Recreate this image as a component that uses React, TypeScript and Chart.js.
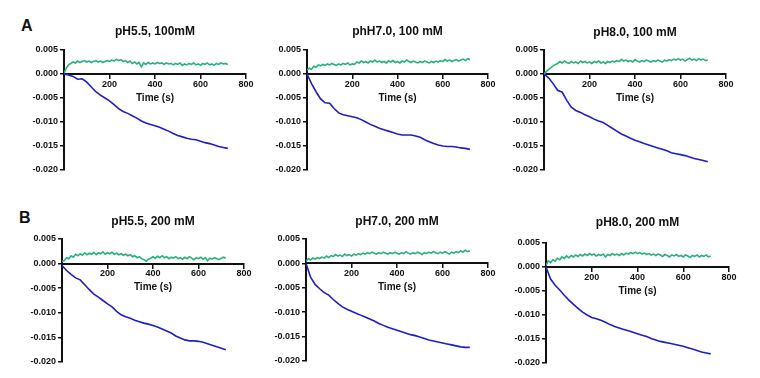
import React, { useEffect, useRef } from "react";
import { Chart, registerables } from "chart.js";

Chart.register(...registerables);

// ---------- data ----------
const timesBlue = [
  0, 20, 40, 60, 80, 100, 120, 140, 160, 180,
  200, 220, 240, 260, 280, 300, 320, 340, 360, 380,
  400, 420, 440, 460, 480, 500, 520, 540, 560, 580,
  600, 620, 640, 660, 680, 700, 720,
];
const timesGreen = [
  0, 10, 20, 30, 40, 50, 60, 70, 80, 90,
  100, 110, 120, 130, 140, 150, 160, 170, 180, 190,
  200, 210, 220, 230, 240, 250, 260, 270, 280, 290,
  300, 310, 320, 330, 340, 350, 360, 370, 380, 390,
  400, 410, 420, 430, 440, 450, 460, 470, 480, 490,
  500, 510, 520, 530, 540, 550, 560, 570, 580, 590,
  600, 610, 620, 630, 640, 650, 660, 670, 680, 690,
  700, 710, 720,
];

const titles = [
  "pH5.5, 100mM",
  "phH7.0, 100 mM",
  "pH8.0, 100 mM",
  "pH5.5, 200 mM",
  "pH7.0, 200 mM",
  "pH8.0, 200 mM",
];
const rowLabels = ["A", "B"];

const blue1 = [
  0, -0.0002, -0.0005, -0.0011, -0.0010, -0.0017, -0.0027, -0.0037, -0.0044, -0.0050,
  -0.0056, -0.0064, -0.0072, -0.0078, -0.0082, -0.0087, -0.0092, -0.0098, -0.0102, -0.0105,
  -0.0108, -0.0111, -0.0115, -0.0119, -0.0124, -0.0128, -0.0131, -0.0134, -0.0136, -0.0137,
  -0.0140, -0.0143, -0.0145, -0.0148, -0.0151, -0.0153, -0.0155,
];
const blue2 = [
  0, -0.0020, -0.0037, -0.0052, -0.0060, -0.0061, -0.0072, -0.0081, -0.0085, -0.0087,
  -0.0089, -0.0091, -0.0095, -0.0100, -0.0105, -0.0109, -0.0113, -0.0116, -0.0119, -0.0122,
  -0.0125, -0.0127, -0.0127, -0.0127, -0.0129, -0.0132, -0.0137, -0.0141, -0.0145, -0.0148,
  -0.0150, -0.0151, -0.0151, -0.0152, -0.0154, -0.0155, -0.0157,
];
const blue3 = [
  0, -0.0008, -0.0020, -0.0034, -0.0038, -0.0055, -0.0069, -0.0076, -0.0080, -0.0085,
  -0.0089, -0.0094, -0.0098, -0.0101, -0.0107, -0.0113, -0.0119, -0.0125, -0.0129, -0.0134,
  -0.0138, -0.0141, -0.0145, -0.0148, -0.0151, -0.0154, -0.0157, -0.0160, -0.0164, -0.0166,
  -0.0168, -0.0170, -0.0173, -0.0176, -0.0178, -0.0180, -0.0183,
];
const blue4 = [
  -0.0004, -0.0014, -0.0022, -0.0029, -0.0033, -0.0043, -0.0053, -0.0062, -0.0068, -0.0075,
  -0.0082, -0.0088, -0.0097, -0.0104, -0.0108, -0.0111, -0.0115, -0.0118, -0.0121, -0.0123,
  -0.0126, -0.0129, -0.0133, -0.0137, -0.0141, -0.0147, -0.0151, -0.0155, -0.0157, -0.0157,
  -0.0158, -0.0160, -0.0163, -0.0166, -0.0169, -0.0172, -0.0175,
];
const blue5 = [
  0, -0.0028, -0.0043, -0.0052, -0.0060, -0.0065, -0.0074, -0.0082, -0.0089, -0.0094,
  -0.0098, -0.0102, -0.0106, -0.0110, -0.0114, -0.0118, -0.0123, -0.0127, -0.0131, -0.0134,
  -0.0137, -0.0140, -0.0143, -0.0146, -0.0148, -0.0151, -0.0154, -0.0157, -0.0159, -0.0161,
  -0.0163, -0.0165, -0.0167, -0.0169, -0.0171, -0.0172, -0.0172,
];
const blue6 = [
  0, -0.0025, -0.0038, -0.0048, -0.0059, -0.0069, -0.0078, -0.0086, -0.0094, -0.0100,
  -0.0105, -0.0108, -0.0111, -0.0115, -0.0120, -0.0124, -0.0127, -0.0130, -0.0133, -0.0136,
  -0.0139, -0.0142, -0.0145, -0.0149, -0.0152, -0.0155, -0.0157, -0.0159, -0.0161, -0.0163,
  -0.0165, -0.0168, -0.0171, -0.0174, -0.0177, -0.0179, -0.0181,
];

const green1 = [
  0.0002, 0.0012, 0.0019, 0.0022, 0.0025, 0.0023, 0.0027, 0.0024, 0.0026, 0.0028,
  0.0025, 0.0027, 0.0024, 0.0026, 0.0028, 0.0025, 0.0027, 0.0024, 0.0026, 0.0028,
  0.0026, 0.0029, 0.0027, 0.0031, 0.0028, 0.0030, 0.0026, 0.0028, 0.0024, 0.0027,
  0.0022, 0.0025, 0.0021, 0.0024, 0.0015, 0.0023, 0.0020, 0.0024, 0.0021, 0.0023,
  0.0021, 0.0024, 0.0022, 0.0023, 0.0020, 0.0023, 0.0021, 0.0022, 0.0019, 0.0022,
  0.0020, 0.0023, 0.0018, 0.0021, 0.0019, 0.0022, 0.0020, 0.0023, 0.0019, 0.0021,
  0.0018, 0.0022, 0.0020, 0.0023, 0.0019, 0.0021, 0.0018, 0.0022, 0.0020, 0.0023,
  0.0021, 0.0022, 0.0020,
];
const green2 = [
  0.0008, 0.0012, 0.0010, 0.0016, 0.0014, 0.0019, 0.0017, 0.0020, 0.0018, 0.0021,
  0.0019, 0.0022, 0.0020, 0.0018, 0.0021, 0.0019, 0.0022, 0.0020, 0.0023, 0.0019,
  0.0021, 0.0020, 0.0025, 0.0023, 0.0027, 0.0024, 0.0026, 0.0023, 0.0027, 0.0025,
  0.0029, 0.0025, 0.0027, 0.0024, 0.0026, 0.0023, 0.0027, 0.0025, 0.0028, 0.0024,
  0.0026, 0.0023, 0.0027, 0.0025, 0.0029, 0.0026, 0.0024, 0.0027, 0.0025, 0.0023,
  0.0026, 0.0024, 0.0027, 0.0025, 0.0023, 0.0026, 0.0024, 0.0027, 0.0025, 0.0028,
  0.0026, 0.0030, 0.0027, 0.0029, 0.0026, 0.0028, 0.0030, 0.0027, 0.0029, 0.0031,
  0.0028, 0.0032, 0.0030,
];
const green3 = [
  0.0000, 0.0005, 0.0009, 0.0013, 0.0017, 0.0020, 0.0022, 0.0026, 0.0023, 0.0027,
  0.0024, 0.0022, 0.0026, 0.0023, 0.0025, 0.0022, 0.0027, 0.0024, 0.0026, 0.0023,
  0.0025, 0.0022, 0.0026, 0.0024, 0.0027, 0.0023, 0.0025, 0.0022, 0.0026, 0.0024,
  0.0027, 0.0025, 0.0028, 0.0026, 0.0030, 0.0027, 0.0029, 0.0026, 0.0028, 0.0025,
  0.0030, 0.0027, 0.0025, 0.0028, 0.0026, 0.0029, 0.0027, 0.0025, 0.0028, 0.0026,
  0.0029, 0.0027, 0.0025, 0.0029, 0.0027, 0.0030, 0.0028, 0.0031, 0.0029, 0.0032,
  0.0029, 0.0031, 0.0027, 0.0030, 0.0033, 0.0029, 0.0031, 0.0028, 0.0032, 0.0029,
  0.0031, 0.0028, 0.0029,
];
const green4 = [
  0.0004, 0.0006, 0.0012, 0.0010, 0.0016, 0.0013, 0.0019, 0.0016, 0.0020, 0.0017,
  0.0022, 0.0018, 0.0021, 0.0019, 0.0023, 0.0018, 0.0022, 0.0020, 0.0024, 0.0019,
  0.0022, 0.0020, 0.0023, 0.0019, 0.0021, 0.0018, 0.0020, 0.0017, 0.0019, 0.0016,
  0.0018, 0.0014, 0.0016, 0.0012, 0.0014, 0.0010, 0.0008, 0.0005, 0.0009, 0.0011,
  0.0014, 0.0011, 0.0015, 0.0012, 0.0016, 0.0012, 0.0014, 0.0010, 0.0013, 0.0011,
  0.0014, 0.0010, 0.0012, 0.0009, 0.0013, 0.0010, 0.0014, 0.0011, 0.0008, 0.0012,
  0.0010, 0.0013, 0.0009, 0.0012, 0.0006, 0.0011, 0.0009, 0.0012, 0.0010, 0.0008,
  0.0011, 0.0013, 0.0011,
];
const green5 = [
  0.0004, 0.0010, 0.0007, 0.0011, 0.0009, 0.0012, 0.0010, 0.0013, 0.0011, 0.0015,
  0.0012, 0.0016, 0.0014, 0.0018, 0.0015, 0.0017, 0.0014, 0.0019, 0.0016, 0.0018,
  0.0015, 0.0019, 0.0017, 0.0020, 0.0018, 0.0021, 0.0019, 0.0022, 0.0020, 0.0023,
  0.0021, 0.0019, 0.0022, 0.0020, 0.0023, 0.0021, 0.0019, 0.0022, 0.0020, 0.0023,
  0.0021, 0.0019, 0.0022, 0.0020, 0.0024, 0.0021, 0.0019, 0.0022, 0.0020, 0.0023,
  0.0021, 0.0018, 0.0022, 0.0020, 0.0023, 0.0021, 0.0024, 0.0022, 0.0020, 0.0023,
  0.0021, 0.0024, 0.0022, 0.0019, 0.0023, 0.0021, 0.0024, 0.0022, 0.0026, 0.0023,
  0.0027, 0.0024, 0.0026,
];
const green6 = [
  0.0003, 0.0013, 0.0009, 0.0015, 0.0012, 0.0018, 0.0015, 0.0021, 0.0018, 0.0023,
  0.0019, 0.0024, 0.0021, 0.0025, 0.0022, 0.0026, 0.0023, 0.0027, 0.0024, 0.0028,
  0.0025, 0.0027, 0.0023, 0.0026, 0.0024, 0.0027, 0.0021, 0.0026, 0.0024, 0.0028,
  0.0025, 0.0027, 0.0024, 0.0028, 0.0025, 0.0029, 0.0027, 0.0030, 0.0028, 0.0031,
  0.0028, 0.0030, 0.0027, 0.0029, 0.0026, 0.0028, 0.0025, 0.0027, 0.0024, 0.0027,
  0.0025, 0.0022, 0.0026, 0.0024, 0.0021, 0.0025, 0.0023, 0.0026, 0.0022, 0.0024,
  0.0021, 0.0025, 0.0023, 0.0020, 0.0024, 0.0022, 0.0025, 0.0021, 0.0024, 0.0022,
  0.0025, 0.0021, 0.0023,
];

const blueSeries = [blue1, blue2, blue3, blue4, blue5, blue6];
const greenSeries = [green1, green2, green3, green4, green5, green6];

const yMin = -0.02;
const yMax = 0.005;
const yStep = 0.005;
const xMin = 0;
const xMax = 800;
const xStep = 200;
const xTitle = "Time (s)";

// ---------- layout / style ----------
const BLUE = "#1e1ec8";
const GREEN = "#27b27c";
const AX = "#111111";
const FONT = '"Liberation Sans", Arial, Helvetica, sans-serif';

// plot-area boxes in page pixels: x0 (x=0), x1 (x=800), top (0.005), bottom (-0.020)
const boxes = [
  { x0: 63.5, x1: 245, top: 50, bottom: 170, tdy: 18.3 },
  { x0: 307, x1: 488, top: 50, bottom: 170, tdy: 18.3 },
  { x0: 543.5, x1: 725, top: 50, bottom: 170, tdy: 17.7 },
  { x0: 62, x1: 244, top: 238.5, bottom: 361, tdy: 17.5 },
  { x0: 306, x1: 488, top: 239, bottom: 361, tdy: 17 },
  { x0: 546, x1: 728.5, top: 243, bottom: 363, tdy: 20 },
];

const PAD_L = 50;
const PAD_T = 30;
const PAD_R = 16;
const PAD_B = 8;

Chart.defaults.font.family = FONT;

function Panel({ idx }: { idx: number }) {
  const ref = useRef<HTMLCanvasElement>(null);
  const b = boxes[idx];
  const w = Math.round(b.x1 - b.x0 + PAD_L + PAD_R);
  const h = Math.round(b.bottom - b.top + PAD_T + PAD_B);
  const left = b.x0 - PAD_L;
  const top = b.top - PAD_T;

  useEffect(() => {
    const canvas = ref.current!;
    const title = titles[idx];
    const tdy = b.tdy;
    const titlePlugin = {
      id: "panelTitle",
      afterDraw(chart: any) {
        const { ctx, chartArea } = chart;
        ctx.save();
        ctx.font = `bold 12px ${FONT}`;
        ctx.fillStyle = AX;
        ctx.textAlign = "center";
        ctx.textBaseline = "middle";
        ctx.fillText(title, (chartArea.left + chartArea.right) / 2, chartArea.top - tdy);
        ctx.restore();
      },
    };
    const green = greenSeries[idx];
    const blue = blueSeries[idx];
    const chart = new Chart(canvas, {
      type: "line",
      data: {
        datasets: [
          {
            data: timesGreen.map((t, i) => ({ x: t, y: green[i] })),
            borderColor: GREEN,
            borderWidth: 1.6,
            pointRadius: 0,
            tension: 0,
          },
          {
            data: timesBlue.map((t, i) => ({ x: t, y: blue[i] })),
            borderColor: BLUE,
            borderWidth: 1.6,
            pointRadius: 0,
            tension: 0,
          },
        ],
      },
      options: {
        responsive: false,
        animation: false,
        devicePixelRatio: 1,
        layout: { padding: { left: 0, top: PAD_T, right: PAD_R, bottom: PAD_B } },
        plugins: {
          legend: { display: false },
          tooltip: { enabled: false },
          title: { display: false },
        },
        scales: {
          x: {
            type: "linear",
            min: xMin,
            max: xMax,
            position: { y: 0 } as any,
            border: { display: true, color: AX, width: 2 },
            grid: { drawOnChartArea: false, drawTicks: true, tickLength: 4, color: AX, lineWidth: 1.5 },
            ticks: {
              stepSize: xStep,
              autoSkip: false,
              maxRotation: 0,
              padding: 1,
              color: AX,
              font: { size: 9, weight: "bold" },
              callback: (v: any) => (Number(v) === 0 ? "" : String(v)),
            },
            title: {
              display: true,
              text: xTitle,
              color: AX,
              font: { size: 10, weight: "bold" },
              padding: { top: 1, bottom: 0 },
            },
          },
          y: {
            type: "linear",
            min: yMin,
            max: yMax,
            position: "left",
            afterFit: (s: any) => {
              s.width = PAD_L;
            },
            border: { display: true, color: AX, width: 2 },
            grid: { drawOnChartArea: false, drawTicks: true, tickLength: 4, color: AX, lineWidth: 1.5 },
            ticks: {
              stepSize: yStep,
              padding: 2,
              color: AX,
              font: { size: 9, weight: "bold" },
              callback: (v: any) => Number(v).toFixed(3),
            },
          },
        },
      } as any,
      plugins: [titlePlugin],
    });
    return () => chart.destroy();
  }, []);

  return (
    <canvas
      ref={ref}
      width={w}
      height={h}
      style={{ position: "absolute", left, top, width: w, height: h }}
    />
  );
}

export default function App() {
  return (
    <div
      style={{
        position: "absolute",
        left: 0,
        top: 0,
        width: 760,
        height: 378,
        background: "#ffffff",
        overflow: "hidden",
        fontFamily: FONT,
      }}
    >
      <div style={{ position: "absolute", left: 21, top: 18, fontSize: 16, lineHeight: "16px", fontWeight: "bold", color: AX }}>
        {rowLabels[0]}
      </div>
      <div style={{ position: "absolute", left: 19, top: 210, fontSize: 16, lineHeight: "16px", fontWeight: "bold", color: AX }}>
        {rowLabels[1]}
      </div>
      {[0, 1, 2, 3, 4, 5].map((i) => (
        <Panel key={i} idx={i} />
      ))}
    </div>
  );
}
